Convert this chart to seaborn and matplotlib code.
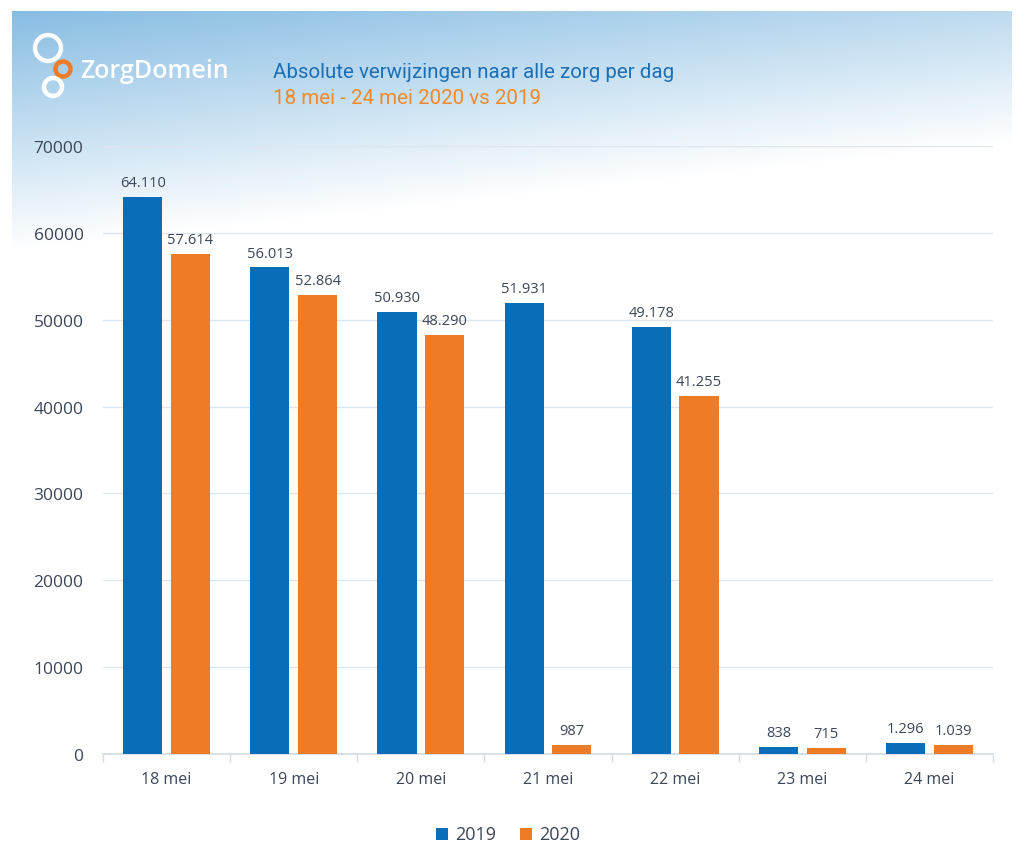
import numpy as np
import pandas as pd
import matplotlib.pyplot as plt
from matplotlib.patches import Circle
import seaborn as sns

# data
days = ['18 mei', '19 mei', '20 mei', '21 mei', '22 mei', '23 mei', '24 mei']
values_2019 = [64110, 56013, 50930, 51931, 49178, 838, 1296]
values_2020 = [57614, 52864, 48290, 987, 41255, 715, 1039]
years = ['2019', '2020']
yticks = [0, 10000, 20000, 30000, 40000, 50000, 60000, 70000]

df = pd.DataFrame({
    'dag': days * 2,
    'jaar': ['2019'] * len(days) + ['2020'] * len(days),
    'waarde': values_2019 + values_2020,
})

blue = '#0a6db8'
orange = '#ee7b25'
txt = '#3b4656'

sns.set_theme(style='white')
plt.rcParams['font.family'] = ['Open Sans', 'DejaVu Sans']

W, H = 1024, 854
fig = plt.figure(figsize=(W / 100, H / 100), dpi=100)

# gradient background panel
bg = fig.add_axes([0, 0, 1, 1], zorder=-10)
yy, xx = np.mgrid[0:H, 0:W]
t = np.clip((yy - 12) / 240.0 + xx / 1000.0 * 0.45, 0, 1)
top = np.array([0.53, 0.74, 0.89])
img = top[None, None, :] * (1 - t[..., None]) + 1.0 * t[..., None]
outside = (xx < 12) | (xx > 1011) | (yy < 12)
img[outside] = 1.0
bg.imshow(img, extent=[0, W, H, 0], aspect='auto')
bg.set_xlim(0, W)
bg.set_ylim(H, 0)
bg.axis('off')

# logo
bg.add_patch(Circle((48, 49), 13, fill=False, ec='white', lw=3.2))
bg.add_patch(Circle((63, 70), 7.5, fill=False, ec=orange, lw=3.2))
bg.add_patch(Circle((53, 88), 9, fill=False, ec='white', lw=3.2))
bg.text(80, 72, 'ZorgDomein', color='white', fontsize=18, fontweight='semibold',
        va='center', ha='left', family=['Open Sans', 'DejaVu Sans'])
bg.text(273, 73, 'Absolute verwijzingen naar alle zorg per dag', color='#1b6fb5',
        fontsize=14.8, va='center', ha='left', family=['Roboto', 'DejaVu Sans'])
bg.text(273, 99, '18 mei - 24 mei 2020 vs 2019', color='#ee8a2a',
        fontsize=14.8, va='center', ha='left', family=['Roboto', 'DejaVu Sans'])

ax = fig.add_axes([103 / W, 1 - 755 / H, 890 / W, (755 - 147) / H])
ax.patch.set_alpha(0)
sns.barplot(data=df, x='dag', y='waarde', hue='jaar', hue_order=years,
            palette=[blue, orange], width=0.75, gap=0.18, saturation=1,
            linewidth=0, ax=ax, legend=False, zorder=3)

for cont in ax.containers:
    labels = [f'{int(v):,}'.replace(',', '.') for v in cont.datavalues]
    ax.bar_label(cont, labels=labels, padding=5, fontsize=10.5, color=txt)

ax.set_ylim(0, 70000)
ax.set_xlim(-0.5, len(days) - 0.5)
ax.set_yticks(yticks)
ax.set_yticklabels([str(v) for v in yticks])
ax.yaxis.grid(True, color='#dfe5ec', lw=1, zorder=0)
for s in ['top', 'right', 'left']:
    ax.spines[s].set_visible(False)
ax.spines['bottom'].set_color('#d5dce4')
ax.tick_params(axis='y', length=0, pad=14, labelsize=12.5, labelcolor=txt)
ax.tick_params(axis='x', length=0, pad=12, labelsize=11.5, labelcolor=txt)
ax.set_xticks(np.arange(-0.5, len(days), 1.0), minor=True)
ax.tick_params(axis='x', which='minor', length=6, color='#d5dce4', width=1, bottom=True)
ax.set_xlabel('')
ax.set_ylabel('')

# legend
for i, (yr, c) in enumerate(zip(years, [blue, orange])):
    x0 = 436 + i * 84
    bg.add_patch(plt.Rectangle((x0, 829), 12, 12, color=c, lw=0))
    bg.text(x0 + 19, 835, yr, fontsize=13, color=txt, va='center', ha='left')

fig.savefig('out.png', dpi=100)
